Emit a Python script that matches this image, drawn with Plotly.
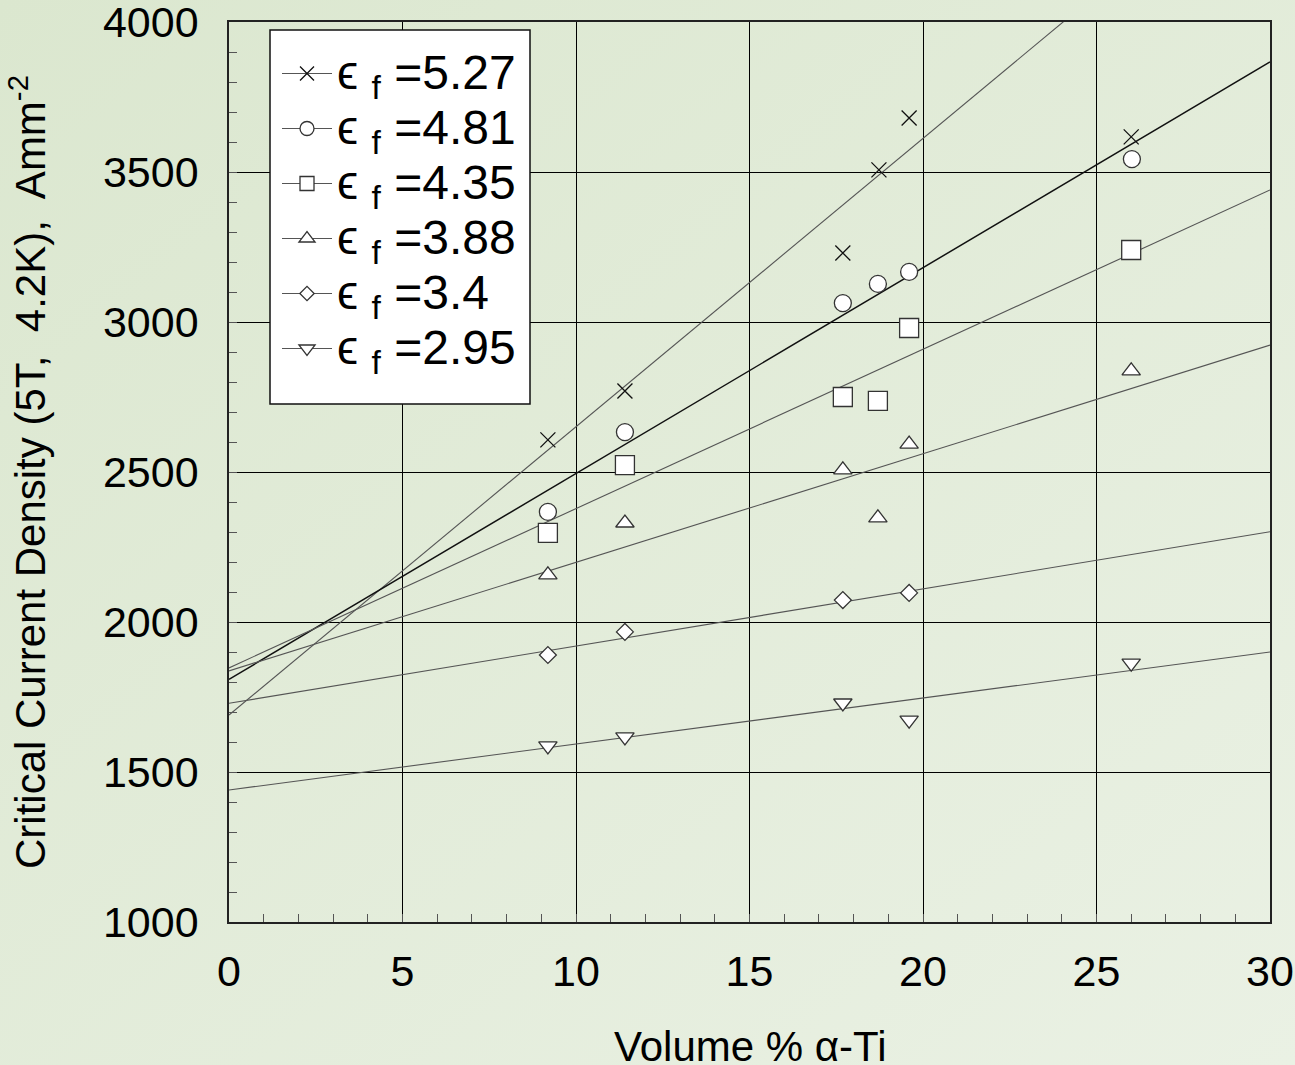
import base64
import plotly.graph_objects as go

# ---------------- data ----------------
strain_labels = ["5.27", "4.81", "4.35", "3.88", "3.4", "2.95"]

x_527 = [9.19, 11.41, 17.69, 18.73, 19.60, 26.00]
y_527 = [2607, 2770, 3230, 3507, 3680, 3617]

x_481 = [9.19, 11.41, 17.69, 18.70, 19.60, 26.02]
y_481 = [2367, 2633, 3063, 3127, 3167, 3543]

x_435 = [9.19, 11.41, 17.69, 18.70, 19.60, 26.00]
y_435 = [2297, 2523, 2750, 2737, 2980, 3240]

x_388 = [9.19, 11.41, 17.69, 18.70, 19.60, 26.00]
y_388 = [2157, 2330, 2507, 2347, 2593, 2837]

x_340 = [9.19, 11.41, 17.69, 19.60]
y_340 = [1890, 1967, 2073, 2097]

x_295 = [9.19, 11.41, 17.69, 19.60, 26.00]
y_295 = [1587, 1617, 1730, 1673, 1863]

# fitted trend lines as drawn: value at x=0 and slope per vol%
fit_intercept = [1690, 1809, 1847, 1837, 1729, 1440]
fit_slope = [96.1, 68.6, 53.1, 36.2, 19.07, 15.33]
fit_x = [0, 30]

x_ticks = [0, 5, 10, 15, 20, 25, 30]
y_ticks = [1000, 1500, 2000, 2500, 3000, 3500, 4000]

x_title = "Volume % α-Ti"
y_title = "Critical Current Density (5T,  4.2K),  Amm<sup>-2</sup>"

# ---------------- styling ----------------
series_x = [x_527, x_481, x_435, x_388, x_340, x_295]
series_y = [y_527, y_481, y_435, y_388, y_340, y_295]
symbols = ["x-thin-open", "circle", "square", "triangle-up", "diamond", "triangle-down"]
sizes = [15, 17, 19, 16, 13, 16]
line_colors = ["#555555", "#111111", "#555555", "#555555", "#555555", "#555555"]
line_widths = [1.1, 1.5, 1.1, 1.1, 1.1, 1.1]

FONT = "Liberation Sans, Arial, Helvetica, sans-serif"

fig = go.Figure()

for i in range(6):
    a, b = fit_intercept[i], fit_slope[i]
    fig.add_trace(go.Scatter(
        x=fit_x, y=[a + b * xx for xx in fit_x], mode="lines",
        line=dict(color=line_colors[i], width=line_widths[i]),
        showlegend=False, hoverinfo="skip"))

for i in range(6):
    sym = symbols[i]
    if sym == "x-thin-open":
        mk = dict(symbol=sym, size=sizes[i], color="#111111",
                  line=dict(color="#111111", width=1.3))
    else:
        mk = dict(symbol=sym, size=sizes[i], color="white",
                  line=dict(color="#333333", width=1.3))
    fig.add_trace(go.Scatter(x=series_x[i], y=series_y[i], mode="markers",
                             marker=mk, showlegend=False))
    # legend entry (line + marker)
    lmk = dict(mk)
    lmk["size"] = 14 if sym != "diamond" else 11
    fig.add_trace(go.Scatter(
        x=[None], y=[None], mode="lines+markers",
        name=('<span style="font-size:48px">ϵ <sub>f</sub> =' + strain_labels[i] + '</span>'),
        line=dict(color="#555555", width=1), marker=lmk, showlegend=True))

# gradient background as inline svg image
svg = ('<svg xmlns="http://www.w3.org/2000/svg" width="1295" height="1065">'
       '<defs><linearGradient id="g" x1="0" y1="0" x2="1" y2="1">'
       '<stop offset="0" stop-color="#dbe7cf"/><stop offset="1" stop-color="#eaf1e4"/>'
       '</linearGradient></defs><rect width="1295" height="1065" fill="url(#g)"/></svg>')
src = "data:image/svg+xml;base64," + base64.b64encode(svg.encode()).decode()

L, R, T, B = 229, 25, 22, 143
W, H = 1295, 1065
pw, ph = W - L - R, H - T - B

fig.add_layout_image(dict(
    source=src, xref="paper", yref="paper",
    x=-L / pw, y=1 + T / ph, sizex=W / pw, sizey=H / ph,
    xanchor="left", yanchor="top", sizing="stretch", layer="below"))

# legend frame (white box)
fig.add_shape(type="rect", xref="paper", yref="paper",
              x0=(270 - L) / pw, x1=(530 - L) / pw,
              y0=(922 - 404) / ph, y1=(922 - 30) / ph,
              fillcolor="white", line=dict(color="#111111", width=1.5), layer="above")

# x-axis title placed as annotation (sits at the bottom edge like the reference)
fig.add_annotation(text=x_title, xref="paper", yref="paper", x=0.5,
                   y=(922 - 1046) / ph, xanchor="center", yanchor="middle",
                   showarrow=False, font=dict(family=FONT, size=42, color="black"))

axis_common = dict(
    showgrid=True, gridcolor="#000000", gridwidth=1.3,
    showline=True, linecolor="#222222", linewidth=1.6, mirror=True,
    ticks="inside", ticklen=8, tickcolor="#555555",
    tickfont=dict(family=FONT, size=43, color="black"),
    zeroline=False, automargin=False, ticklabeloverflow="allow",
)

fig.update_layout(
    width=W, height=H,
    margin=dict(l=L, r=R, t=T, b=B),
    paper_bgcolor="#e3ecd9", plot_bgcolor="rgba(0,0,0,0)",
    font=dict(family=FONT, color="black"),
    xaxis=dict(range=[0, 30], tickvals=x_ticks, ticklabelstandoff=11,
               minor=dict(dtick=1, ticks="inside", ticklen=8, tickcolor="#555555", showgrid=False),
               **axis_common),
    yaxis=dict(range=[1000, 4000], tickvals=y_ticks, ticklabelstandoff=20,
               minor=dict(dtick=100, ticks="inside", ticklen=8, tickcolor="#555555", showgrid=False),
               title=dict(text=y_title, font=dict(family=FONT, size=42), standoff=44),
               **axis_common),
    legend=dict(x=(277 - L) / pw, y=(922 - 41) / ph, xanchor="left", yanchor="top",
                bgcolor="rgba(0,0,0,0)", borderwidth=0,
                font=dict(family=FONT, size=40, color="black"),
                itemwidth=50, tracegroupgap=0),
    showlegend=True,
)

fig.write_html("out.html")
